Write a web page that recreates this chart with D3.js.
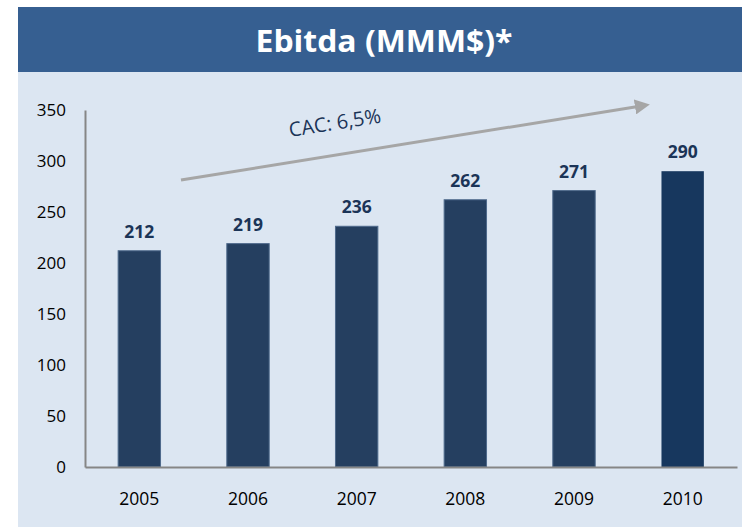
<!DOCTYPE html>
<html lang="es">
<head>
<meta charset="UTF-8">
<title>Ebitda (MMM$)*</title>
<script src="https://d3js.org/d3.v7.min.js"></script>
<style>
  body { margin: 0; background: #fff; }
  svg text { font-family: "Open Sans", Lato, sans-serif; }
</style>
</head>
<body>
<svg width="742" height="527"></svg>
<script>
var years = ['2005', '2006', '2007', '2008', '2009', '2010']
var ebitda = [212, 219, 236, 262, 271, 290]
var yTicks = [0, 50, 100, 150, 200, 250, 300, 350]
var title = 'Ebitda (MMM$)*'
var cagrLabel = 'CAC: 6,5%'

var svg = d3.select('svg')

// panel + banner
svg.append('rect').attr('x', 18).attr('y', 72).attr('width', 724).attr('height', 455).attr('fill', '#dce6f2')
svg.append('rect').attr('x', 18).attr('y', 7).attr('width', 724).attr('height', 65).attr('fill', '#365f91')
svg.append('text')
  .attr('x', 384).attr('y', 52)
  .attr('text-anchor', 'middle')
  .attr('fill', '#fff')
  .attr('font-size', 30)
  .attr('font-weight', 'bold')
  .attr('textLength', 257)
  .attr('lengthAdjust', 'spacingAndGlyphs')
  .text(title)

var x = d3.scaleBand()
  .domain(years)
  .range([85, 737])
  .paddingInner(0.61)
  .paddingOuter(0.305)

var y = d3.scaleLinear()
  .domain([0, 350])
  .range([467, 110])

// y axis
var yAxis = svg.append('g')
  .attr('transform', 'translate(85,0)')
  .call(d3.axisLeft(y).tickValues(yTicks).tickSize(0).tickPadding(19))
yAxis.select('.domain').attr('stroke', '#868686').attr('stroke-width', 2)
yAxis.selectAll('text').attr('font-size', 17).attr('fill', '#000')

// bars
svg.selectAll('rect.bar')
  .data(ebitda)
  .join('rect')
  .attr('class', 'bar')
  .attr('x', (d, i) => x(years[i]))
  .attr('y', d => y(d))
  .attr('width', x.bandwidth())
  .attr('height', d => y(0) - y(d))
  .attr('fill', (d, i) => i === years.length - 1 ? '#17375e' : '#253f60')
  .attr('stroke', (d, i) => i === years.length - 1 ? 'none' : '#4f6a8c')
  .attr('stroke-width', 1)

// x axis
var xAxis = svg.append('g')
  .attr('transform', 'translate(0,' + y(0) + ')')
  .call(d3.axisBottom(x).tickSize(0).tickPadding(26).tickSizeOuter(0))
xAxis.select('.domain').attr('stroke', '#868686').attr('stroke-width', 2)
xAxis.selectAll('text').attr('font-size', 17.5).attr('fill', '#000')

// value labels
svg.selectAll('text.val')
  .data(ebitda)
  .join('text')
  .attr('class', 'val')
  .attr('x', (d, i) => x(years[i]) + x.bandwidth() / 2)
  .attr('y', d => y(d) - 13)
  .attr('text-anchor', 'middle')
  .attr('font-size', 17.5)
  .attr('font-weight', 'bold')
  .attr('fill', '#1b3457')
  .text(d => d)

// growth arrow
svg.append('defs').append('marker')
  .attr('id', 'arrow')
  .attr('viewBox', '0 0 10 10')
  .attr('refX', 2).attr('refY', 5)
  .attr('markerWidth', 5).attr('markerHeight', 5)
  .attr('orient', 'auto')
  .append('path').attr('d', 'M0,0 L10,5 L0,10 Z').attr('fill', '#a6a6a6')

svg.append('line')
  .attr('x1', 181).attr('y1', 180)
  .attr('x2', 638).attr('y2', 106.5)
  .attr('stroke', '#a6a6a6')
  .attr('stroke-width', 3)
  .attr('marker-end', 'url(#arrow)')

svg.append('text')
  .attr('transform', 'translate(290,137) rotate(-9)')
  .attr('font-size', 20)
  .attr('fill', '#1b3457')
  .text(cagrLabel)
</script>
</body>
</html>
